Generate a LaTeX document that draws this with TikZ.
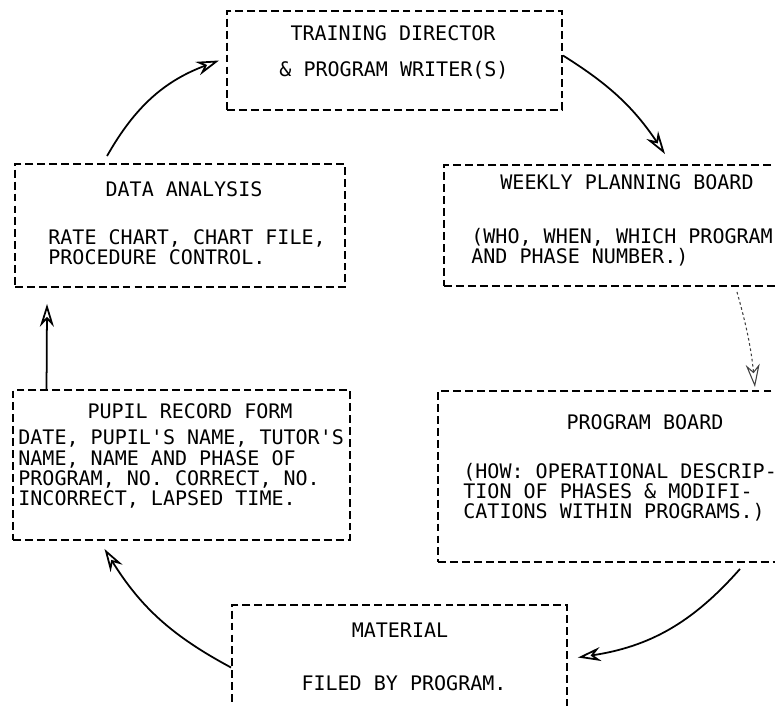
\documentclass[tikz,border=0pt]{standalone}
\usepackage{fontspec}
\usepackage{tikz}
\usetikzlibrary{arrows.meta}
\newfontfamily\typewriter{DejaVu Sans Mono}

\begin{document}
\begin{tikzpicture}[x=0.02cm,y=-0.02cm,
        box/.style={draw,dash pattern=on 4.5pt off 2.3pt,line width=1.1pt,inner sep=0pt},
        txt/.style={font=\typewriter\fontsize{11.4}{11.4}\selectfont,inner sep=0pt},
        body/.style={txt,align=left,anchor=west},
        flow/.style={-{Stealth[open,length=13pt,width=8pt]},line width=1pt}]
        \useasboundingbox (0,0) rectangle (775,706);
        \clip (0,0) rectangle (775,706);

        \coordinate (c1) at (394.5,60.5);
        \coordinate (c2) at (627,225.5);
        \coordinate (c3) at (625,476.5);
        \coordinate (c4) at (399.5,667.5);
        \coordinate (c5) at (181.5,465);
        \coordinate (c6) at (180,225.5);

        \node[box,minimum width=6.7cm,minimum height=1.98cm] (train) at (c1){};
        \node[box,minimum width=7.32cm,minimum height=2.42cm] (planning) at (c2){};
        \node[box,minimum width=7.48cm,minimum height=3.42cm] (progboard) at (c3){};
        \node[box,minimum width=6.7cm,minimum height=2.5cm] (material) at (c4){};
        \node[box,minimum width=6.74cm,minimum height=3cm] (pupil) at (c5){};
        \node[box,minimum width=6.6cm,minimum height=2.46cm] (analysis) at (c6){};

        \node[txt] (trainT) at (393,33){TRAINING DIRECTOR};
        \node[txt] (trainB) at (394,70){\& PROGRAM WRITER(S)};
        \node[txt] (planningT) at (627,182){WEEKLY PLANNING BOARD};
        \node[body] (planningB) at (471,247){(WHO, WHEN, WHICH PROGRAM\\AND PHASE NUMBER.)};
        \node[txt] (progboardT) at (645,422){PROGRAM BOARD};
        \node[body] (progboardB) at (463,492){(HOW: OPERATIONAL DESCRIP-\\TION OF PHASES \& MODIFI-\\CATIONS WITHIN PROGRAMS.)};
        \node[txt] (materialT) at (400,630){MATERIAL};
        \node[txt] (materialB) at (404,683){FILED BY PROGRAM.};
        \node[txt] (pupilT) at (190,411){PUPIL RECORD FORM};
        \node[body] (pupilB) at (18,469){DATE, PUPIL'S NAME, TUTOR'S\\NAME, NAME AND PHASE OF\\PROGRAM, NO. CORRECT, NO.\\INCORRECT, LAPSED TIME.};
        \node[txt] (analysisT) at (184,189){DATA ANALYSIS};
        \node[body] (analysisB) at (48,247){RATE CHART, CHART FILE,\\PROCEDURE CONTROL.};

        % cycle arrows
        \draw[flow] ([yshift=0.1cm]train.east) to[bend left=12] ([xshift=0.76cm,yshift=0.2cm]planning.north);
        \draw[flow,line width=0.6pt,black!75,dash pattern=on 1.5pt off 1.5pt] ([xshift=2.2cm,yshift=-0.1cm]planning.south) to[bend left=5] ([xshift=2.6cm,yshift=0.06cm]progboard.north);
        \draw[flow] ([xshift=2.3cm,yshift=-0.12cm]progboard.south) to[bend left=20] ([xshift=0.2cm,yshift=0.2cm]material.east);
        \draw[flow] (material.west) to[bend left=15] ([xshift=-1.54cm,yshift=-0.16cm]pupil.south);
        \draw[flow] ([xshift=-2.7cm]pupil.north) -- ([xshift=-2.66cm,yshift=-0.32cm]analysis.south);
        \draw[flow] ([xshift=-1.46cm,yshift=0.14cm]analysis.north) to[bend left=20] ([xshift=-0.14cm]train.west);
    \end{tikzpicture}
\end{document}
